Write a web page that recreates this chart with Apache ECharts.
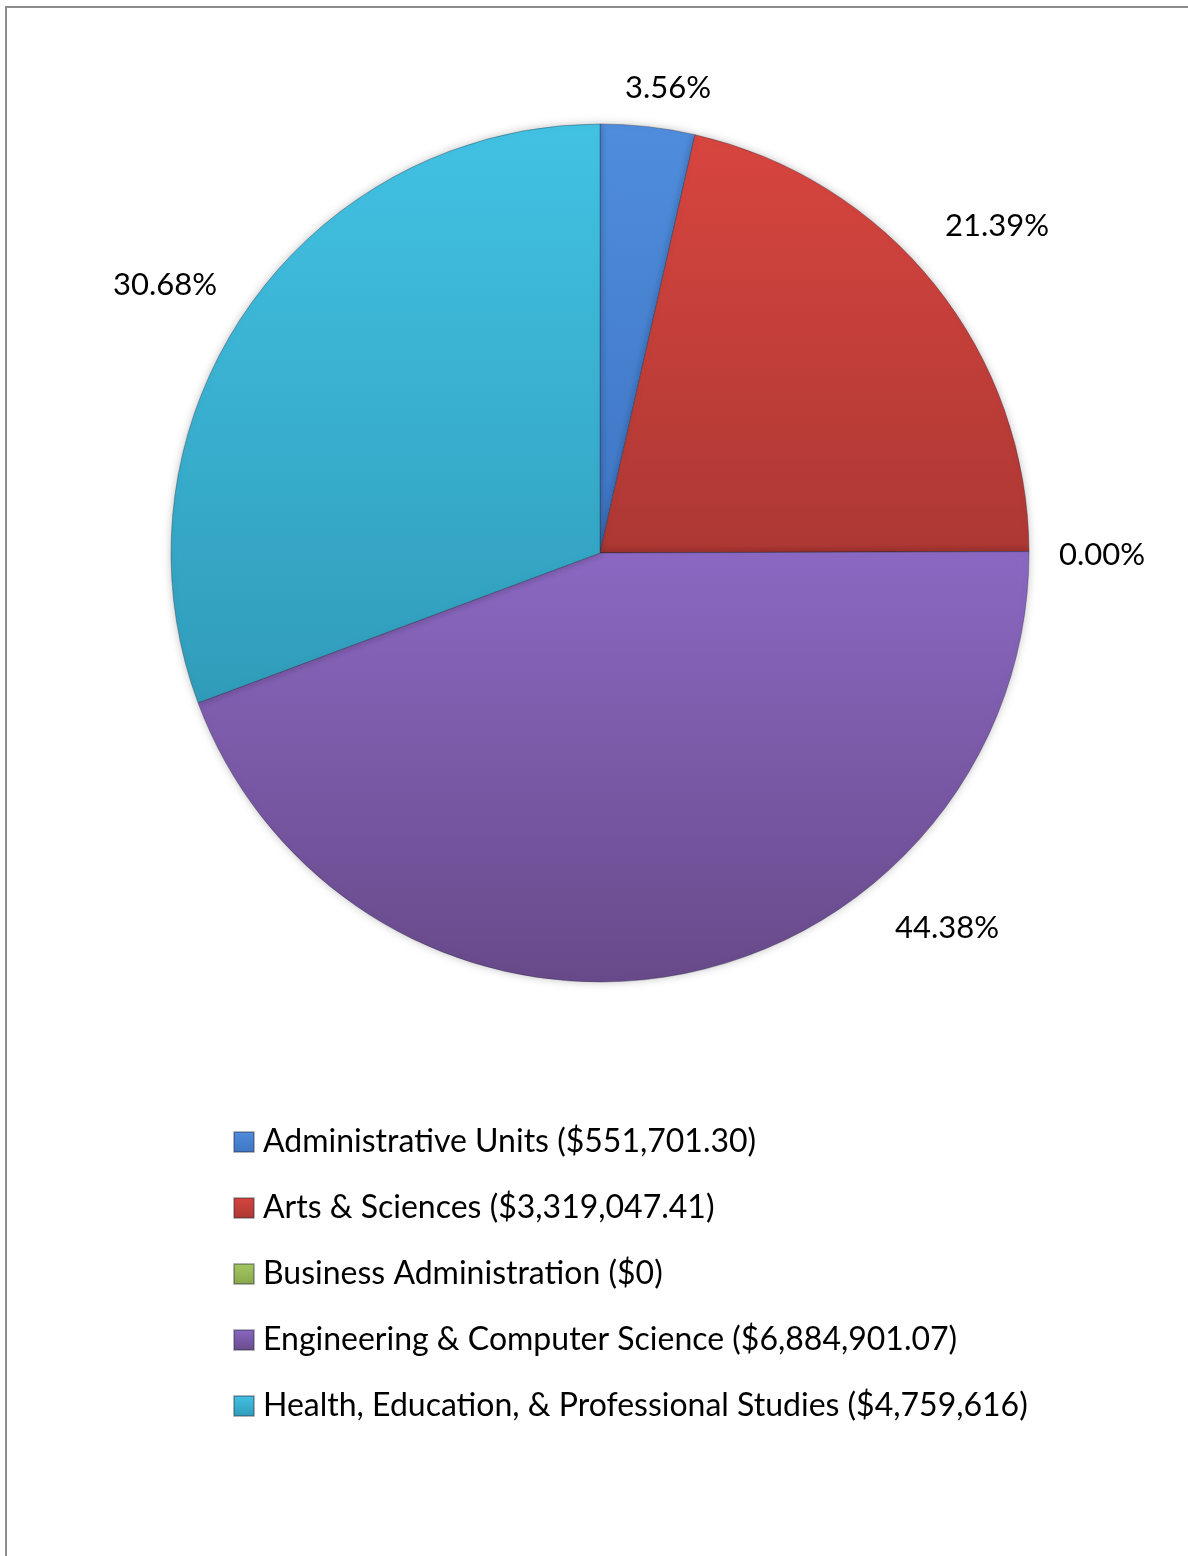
<!DOCTYPE html>
<html>
<head>
<meta charset="utf-8">
<script src="https://cdn.jsdelivr.net/npm/echarts@6/dist/echarts.min.js"></script>
<style>
  html, body { margin: 0; padding: 0; background: #fff; }
  #wrap { position: relative; width: 1188px; height: 1556px; overflow: hidden; }
  #frame { position: absolute; left: 5px; top: 6px; width: 1300px; height: 1700px; border: 2px solid #8c8c8c; box-sizing: border-box; }
  #chart { position: absolute; left: 0; top: 0; width: 1188px; height: 1556px; }
</style>
</head>
<body>
<div id="wrap">
  <div id="frame"></div>
  <div id="chart"></div>
</div>
<script>
// ---- data ----
const categories = [
  'Administrative Units ($551,701.30)',
  'Arts & Sciences ($3,319,047.41)',
  'Business Administration ($0)',
  'Engineering & Computer Science ($6,884,901.07)',
  'Health, Education, & Professional Studies ($4,759,616)'
];
const values = [551701.30, 3319047.41, 0, 6884901.07, 4759616];

// ---- styles ----
const colorStops = [
  ['#4f8ddc', '#3f75c4'],
  ['#d8453f', '#ad3834'],
  ['#a6c862', '#86a84a'],
  ['#8b68c2', '#684a8a'],
  ['#42c2e3', '#309cba']
];
const labelPos = [[668, 88], [997, 226], [1102, 555], [947, 928], [165, 285]];
const FONT = 'Lato, "Open Sans", sans-serif';

const total = values.reduce((a, b) => a + b, 0);

function grad(i) {
  return {
    type: 'linear', x: 0, y: 0, x2: 0, y2: 1,
    colorStops: [{ offset: 0, color: colorStops[i][0] }, { offset: 1, color: colorStops[i][1] }]
  };
}

const chart = echarts.init(document.getElementById('chart'), null, { renderer: 'canvas' });
chart.setOption({
  animation: false,
  backgroundColor: 'transparent',
  legend: {
    orient: 'vertical',
    left: 233,
    top: 1126,
    padding: 0,
    itemWidth: 20,
    itemHeight: 20,
    itemGap: 34,
    icon: 'rect',
    textStyle: { fontFamily: FONT, fontSize: 32, color: '#000', lineHeight: 32, padding: [0, 0, 0, 4] },
    data: categories
  },
  series: [{
    type: 'pie',
    center: [600, 553],
    radius: 429,
    startAngle: 90,
    clockwise: true,
    avoidLabelOverlap: false,
    stillShowZeroSum: true,
    itemStyle: {
      borderColor: 'rgba(40,40,60,0.35)',
      borderWidth: 1,
      shadowBlur: 8,
      shadowColor: 'rgba(0,0,0,0.25)'
    },
    label: {
      show: true,
      position: 'outside',
      fontFamily: FONT,
      fontSize: 31,
      color: '#000',
      formatter: p => (p.value / total * 100).toFixed(2) + '%'
    },
    labelLine: { show: false },
    labelLayout: p => ({
      x: labelPos[p.dataIndex][0],
      y: labelPos[p.dataIndex][1],
      align: 'center',
      verticalAlign: 'middle'
    }),
    emphasis: { disabled: true },
    data: categories.map((c, i) => ({ name: c, value: values[i], itemStyle: { color: grad(i) } }))
  }]
});
</script>
</body>
</html>
